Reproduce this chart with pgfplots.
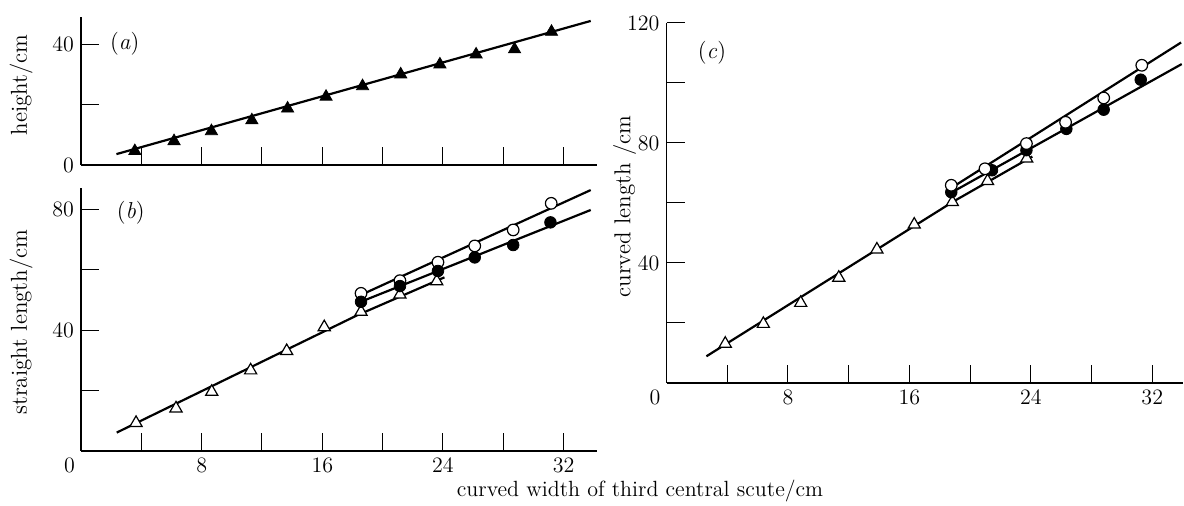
\documentclass[border=0pt]{standalone}
\usepackage{pgfplots}
\pgfplotsset{compat=1.18}

% shared look of the three panels
\pgfplotsset{
  turtle/.style={
    anchor=origin,
    axis x line*=bottom, axis y line*=left,
    axis line style={-, line width=0.75pt},
    every outer x axis line/.append style={-},
    every outer y axis line/.append style={-},
    tick align=inside,
    major tick length=9pt,
    every tick/.style={black, line width=0.5pt},
    xmin=0, ymin=0,
    xtick={0,4,...,32},
    tick label style={font=\fontsize{11}{13}\selectfont},
    clip=false,
  },
  ylab/.style 2 args={
    every axis y label/.style={at={(axis description cs:#1,#2)}, rotate=90,
      anchor=center, font=\fontsize{11.5}{13}\selectfont}},
  fitline/.style={no marks, black, line width=1.1pt},
  opentri/.style={only marks, mark=triangle*, mark size=3.5pt,
    mark options={fill=white, draw=black, line width=0.6pt}},
  filltri/.style={only marks, mark=triangle*, mark size=3.5pt,
    mark options={fill=black, draw=black}},
  opencirc/.style={only marks, mark=*, mark size=2.9pt,
    mark options={fill=white, draw=black, line width=0.6pt}},
  fillcirc/.style={only marks, mark=*, mark size=2.9pt,
    mark options={fill=black, draw=black}},
}

\begin{document}
\begin{tikzpicture}
\path[use as bounding box] (0pt,0pt) rectangle (592pt,253pt);

% (a) height
\begin{axis}[turtle, at={(40.5pt,170.5pt)}, x=7.54pt, y=1.51pt,
  xmax=34.2, ymax=49,
  ytick={0,20,40}, yticklabels={0,,40}, xticklabels={},
  ylabel={height/cm}, ylab={-0.116}{0.54},
]
\addplot[fitline] coordinates {(2.35,3.6) (33.8,47.7)};
\addplot[filltri] coordinates {
  (3.57,4.6) (6.17,7.9) (8.65,11.2) (11.33,14.8) (13.7,18.7) (16.25,22.6)
  (18.67,26.1) (21.2,30.0) (23.8,33.3) (26.2,36.6) (28.75,38.3) (31.2,44.1)};
\node[font=\fontsize{11.5}{13}\selectfont] at (axis cs:2.9,40) {(\textit{a})};
\end{axis}

% (b) straight length
\begin{axis}[turtle, at={(40.5pt,27.5pt)}, x=7.54pt, y=1.51pt,
  xmax=34.2, ymax=87,
  ytick={0,20,40,60,80}, yticklabels={,,40,,80},
  xticklabels={\llap{0\hspace{3pt}},,8,,16,,24,,32},
  ylabel={straight length/cm}, ylab={-0.116}{0.49},
]
\addplot[fitline] coordinates {(2.37,6.1) (18.3,44.9) (24.1,57.5)};
\addplot[fitline] coordinates {(18.4,51.3) (33.8,86.4)};
\addplot[fitline] coordinates {(18.4,49.1) (33.8,79.8)};
\addplot[opentri] coordinates {
  (3.65,9.3) (6.3,14.1) (8.67,19.6) (11.25,26.7) (13.64,33.1)
  (16.13,41.0) (18.57,46.1) (21.15,51.8) (23.59,56.2)};
\addplot[opencirc] coordinates {
  (18.57,52.2) (21.15,56.4) (23.67,62.5) (26.11,67.9) (28.66,73.2) (31.18,82.0)};
\addplot[fillcirc] coordinates {
  (18.57,49.4) (21.15,54.6) (23.67,59.6) (26.11,64.1) (28.66,68.2) (31.13,75.7)};
\node[font=\fontsize{11.5}{13}\selectfont] at (axis cs:3.3,79) {(\textit{b})};
\end{axis}

% (c) curved length
\begin{axis}[turtle, at={(333.25pt,61.5pt)}, x=7.59pt, y=1.5pt,
  xmax=34, ymax=120,
  ytick={0,20,...,120}, yticklabels={,,40,,80,,120},
  xticklabels={\llap{0\hspace{3pt}},,8,,16,,24,,32},
  ylabel={curved length /cm}, ylab={-0.081}{0.49},
]
\addplot[fitline] coordinates {(2.63,8.9) (18.9,60.5) (24.1,75.5)};
\addplot[fitline] coordinates {(18.6,64.5) (33.9,113.5)};
\addplot[fitline] coordinates {(18.6,63.0) (33.94,106.3)};
\addplot[opentri] coordinates {
  (3.87,13.1) (6.38,19.7) (8.84,26.7) (11.35,35.1) (13.86,44.5)
  (16.32,52.8) (18.83,60.3) (21.15,67.3) (23.73,74.8)};
\addplot[fillcirc] coordinates {
  (18.76,63.6) (21.44,70.9) (23.71,77.6) (26.34,84.7) (28.8,91.1) (31.24,101.1)};
\addplot[opencirc] coordinates {
  (18.76,65.9) (20.98,71.4) (23.71,79.8) (26.29,86.9) (28.8,95.0) (31.31,105.9)};
\node[font=\fontsize{11.5}{13}\selectfont] at (axis cs:3.0,110) {(\textit{c})};
\end{axis}

\node[anchor=base, font=\fontsize{11}{13}\selectfont] at (320pt,4.5pt)
  {curved width of third central scute/cm};
\end{tikzpicture}
\end{document}
